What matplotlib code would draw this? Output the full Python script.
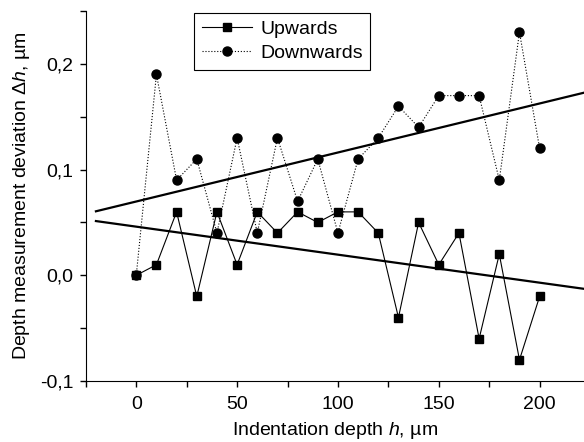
import matplotlib
matplotlib.use('Agg')
import matplotlib.pyplot as plt
from matplotlib.ticker import MultipleLocator, FuncFormatter
import numpy as np

plt.rcParams['font.family'] = 'Liberation Sans'
plt.rcParams['mathtext.fontset'] = 'custom'
plt.rcParams['mathtext.rm'] = 'Liberation Sans'
plt.rcParams['mathtext.it'] = 'Liberation Sans:italic'

# Data
depth = [0, 10, 20, 30, 40, 50, 60, 70, 80, 90, 100,
         110, 120, 130, 140, 150, 160, 170, 180, 190, 200]
upwards = [0.00, 0.01, 0.06, -0.02, 0.06, 0.01, 0.06, 0.04, 0.06, 0.05, 0.06,
           0.06, 0.04, -0.04, 0.05, 0.01, 0.04, -0.06, 0.02, -0.08, -0.02]
downwards = [0.00, 0.19, 0.09, 0.11, 0.04, 0.13, 0.04, 0.13, 0.07, 0.11, 0.04,
             0.11, 0.13, 0.16, 0.14, 0.17, 0.17, 0.17, 0.09, 0.23, 0.12]

fig = plt.figure(figsize=(5.84, 4.42), dpi=100)
ax = fig.add_axes([0.147, 0.138, 0.853, 0.837])

ax.plot(depth, upwards, color='black', lw=0.8, marker='s', ms=5.8,
        label='Upwards')
ax.plot(depth, downwards, color='black', lw=0.8, ls=':', marker='o', ms=6.5,
        label='Downwards')

# linear trend lines
xfit = np.array([-20, 230])
for series in (upwards, downwards):
    k, b = np.polyfit(depth, series, 1)
    ax.plot(xfit, k * xfit + b, color='black', lw=1.6)

ax.set_xlim(-25, 222)
ax.set_ylim(-0.1, 0.25)
ax.spines['top'].set_visible(False)
ax.spines['right'].set_visible(False)
ax.xaxis.set_major_locator(MultipleLocator(50))
ax.xaxis.set_minor_locator(MultipleLocator(25))
ax.yaxis.set_major_locator(MultipleLocator(0.1))
ax.yaxis.set_minor_locator(MultipleLocator(0.05))
ax.yaxis.set_major_formatter(FuncFormatter(lambda v, p: f'{v:.1f}'.replace('.', ',').replace('-0,0', '0,0')))
ax.tick_params(which='both', direction='out', labelsize=14, width=1)
ax.tick_params(which='major', length=4)
ax.tick_params(which='minor', length=4)
ax.tick_params(axis='x', pad=7)
ax.tick_params(axis='y', pad=5)

ax.set_xlabel('Indentation depth $h$, µm', fontsize=14, labelpad=5)
ax.set_ylabel(r'Depth measurement deviation $\mathit{\Delta h}$, µm', fontsize=14, labelpad=6)

leg = ax.legend(loc='upper left', bbox_to_anchor=(0.217, 0.995), borderaxespad=0,
                fancybox=False, edgecolor='black', fontsize=14, handlelength=2.6,
                handletextpad=0.4, borderpad=0.4, labelspacing=0.3, framealpha=1)
leg.get_frame().set_linewidth(0.8)

fig.savefig('out.png', dpi=100)
